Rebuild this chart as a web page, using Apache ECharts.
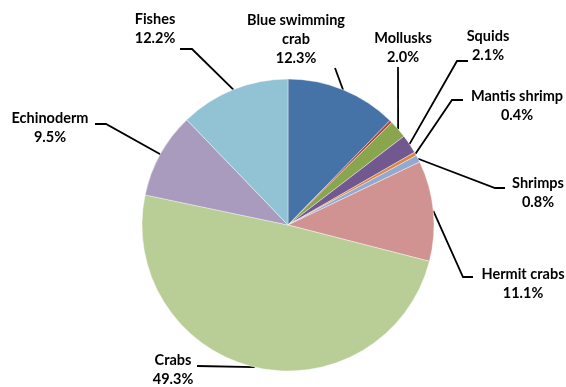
<!DOCTYPE html>
<html>
<head>
<meta charset="utf-8">
<script src="https://cdn.jsdelivr.net/npm/echarts@6/dist/echarts.min.js"></script>
<style>html,body{margin:0;padding:0;background:#fff}#c{width:566px;height:387px}</style>
</head>
<body>
<div id="c"></div>
<script>
// Data (percent of total), clockwise from 12 o'clock
const categories = ['Blue swimming crab', 'Other', 'Mollusks', 'Squids', 'Mantis shrimp', 'Shrimps', 'Hermit crabs', 'Crabs', 'Echinoderm', 'Fishes'];
const values = [12.3, 0.3, 2.0, 2.1, 0.4, 0.8, 11.1, 49.3, 9.5, 12.2];
const showLabel = [true, false, true, true, true, true, true, true, true, true];

// Styling
const colors = ['#4572A7', '#AA4643', '#89A54E', '#71588F', '#DB843D', '#93A9CF', '#D19392', '#B9CD96', '#A99BBD', '#92C3D4'];
// label centre, elbow point, end point of leader line (layout only)
const labelPos = {
  'Blue swimming crab': {c: [296, 39], e: [335, 68], t: [335, 68]},
  'Mollusks': {c: [403, 47.5], e: [398, 67], t: [398, 67]},
  'Squids': {c: [488, 46], e: [457, 61], t: [468, 61]},
  'Mantis shrimp': {c: [517, 106], e: [452, 100], t: [463, 100]},
  'Shrimps': {c: [538, 192.5], e: [495, 188], t: [505, 188]},
  'Hermit crabs': {c: [523, 283.5], e: [463, 277], t: [473, 277]},
  'Crabs': {c: [173, 369.5], e: [197, 366], t: [197, 366]},
  'Echinoderm': {c: [50, 127.5], e: [106, 124], t: [95, 124]},
  'Fishes': {c: [155, 29], e: [192, 49], t: [180, 49]}
};

const chart = echarts.init(document.getElementById('c'), null, {renderer: 'canvas'});
chart.setOption({
  animation: false,
  backgroundColor: '#fff',
  series: [{
    type: 'pie',
    center: [288, 225],
    radius: 146,
    startAngle: 90,
    clockwise: true,
    percentPrecision: 1,
    avoidLabelOverlap: false,
    itemStyle: {borderColor: '#ffffff', borderWidth: 0.4},
    label: {
      show: true,
      position: 'outside',
      fontFamily: 'Lato',
      fontWeight: 'bold',
      fontSize: 14.5,
      lineHeight: 19,
      color: '#000',
      formatter: p => p.name.replace('swimming ', 'swimming\n') + '\n' + p.percent.toFixed(1) + '%'
    },
    labelLine: {show: true, lineStyle: {color: '#000', width: 1.8}, length: 10, length2: 10},
    labelLayout: function (params) {
      const name = categories[params.dataIndex];
      const lp = labelPos[name];
      if (!lp) return {};
      const p0 = params.labelLinePoints ? params.labelLinePoints[0] : lp.e;
      return {
        x: lp.c[0], y: lp.c[1], align: 'center', verticalAlign: 'middle',
        labelLinePoints: [p0, lp.e, lp.t]
      };
    },
    data: categories.map((n, i) => ({
      name: n,
      value: values[i],
      itemStyle: {color: colors[i]},
      label: {show: showLabel[i]},
      labelLine: {show: showLabel[i]}
    }))
  }]
});
</script>
</body>
</html>
